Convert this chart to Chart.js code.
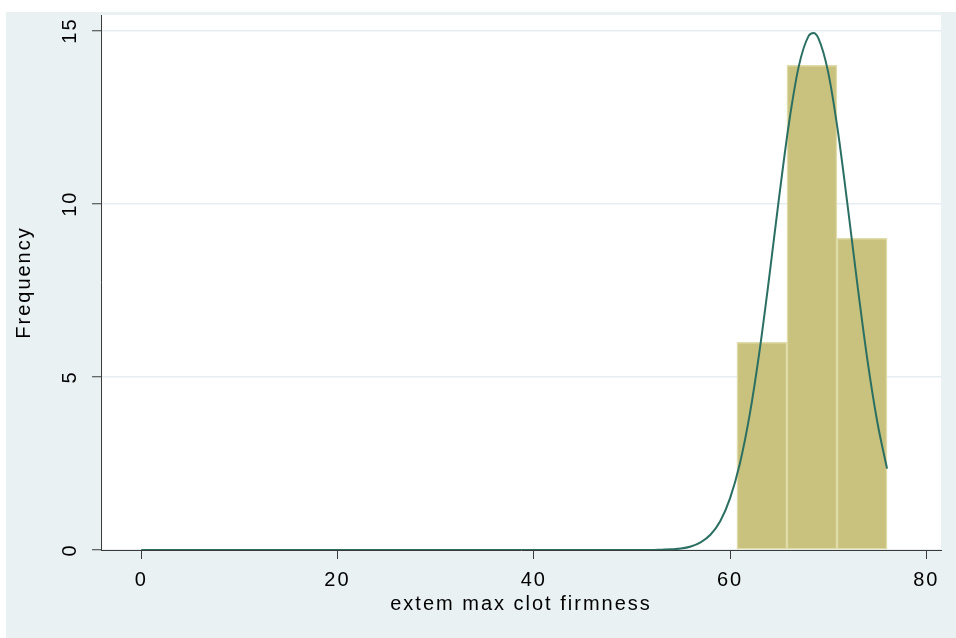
<!DOCTYPE html>
<html>
<head>
<meta charset="utf-8">
<script src="https://cdn.jsdelivr.net/npm/chart.js@4/dist/chart.umd.min.js"></script>
<style>
  html, body { margin: 0; padding: 0; background: #ffffff; }
  #wrap { position: absolute; left: 6px; top: 12px; width: 950px; height: 626px; background: #EAF1F3; }
  canvas { display: block; }
</style>
</head>
<body>
<div id="wrap"><canvas id="hist" width="950" height="626"></canvas></div>
<script>
// Histogram bins (edges) and counts
const binEdges = [60.7, 65.8, 70.9, 76.0];
const frequencies = [6, 14, 9];

// Fitted normal density, scaled to frequency
const curveX = [0, 10, 20, 30, 40, 45, 50, 52, 53, 54, 55, 56, 57, 58, 59, 60, 61, 62, 63, 64, 65, 66, 67, 68, 68.5, 69, 70, 71, 72, 73, 74, 75, 76];
const curveY = [0, 0, 0, 0, 0, 0, 0, 0, 0.01, 0.02, 0.04, 0.10, 0.22, 0.44, 0.83, 1.49, 2.49, 3.90, 5.73, 7.89, 10.18, 12.31, 13.96, 14.84, 14.93, 14.78, 13.80, 12.08, 9.91, 7.62, 5.49, 3.71, 2.35];

// Axis ticks
const xTicks = [0, 20, 40, 60, 80];
const yTicks = [0, 5, 10, 15];

const barPoints = frequencies.map((f, i) => ({ x: (binEdges[i] + binEdges[i + 1]) / 2, y: f }));
const curvePoints = curveX.map((x, i) => ({ x: x, y: curveY[i] }));

const FONT = { family: "'Liberation Sans', Arial, Helvetica, sans-serif", size: 20 };
const AXIS = '#3a3a3a';
const GRID = '#E6EEF1';

// Wider letter spacing for all text, plus white plot region
const stylePlugin = {
  id: 'plotStyle',
  beforeUpdate(chart) { chart.ctx.letterSpacing = '2px'; },
  beforeDraw(chart) {
    const { ctx, chartArea: a } = chart;
    ctx.letterSpacing = '2px';
    ctx.save();
    ctx.fillStyle = '#ffffff';
    ctx.fillRect(a.left, a.top, a.right - a.left, a.bottom - a.top);
    ctx.restore();
  }
};

new Chart(document.getElementById('hist'), {
  type: 'bar',
  data: {
    datasets: [
      {
        type: 'line',
        data: curvePoints,
        borderColor: '#2B6F63',
        borderWidth: 2,
        pointRadius: 0,
        cubicInterpolationMode: 'monotone',
        fill: false,
        order: 1
      },
      {
        type: 'bar',
        data: barPoints,
        backgroundColor: '#C9C27E',
        borderColor: '#E0DCAA',
        borderWidth: 1.5,
        borderSkipped: false,
        barPercentage: 1,
        categoryPercentage: 1,
        order: 2
      }
    ]
  },
  options: {
    responsive: false,
    devicePixelRatio: 1,
    animation: false,
    events: [],
    layout: { autoPadding: false, padding: { top: 3, right: 15, bottom: 0, left: 0 } },
    plugins: { legend: { display: false }, tooltip: { enabled: false } },
    scales: {
      x: {
        type: 'linear',
        min: -4.1,
        max: 81.5,
        offset: false,
        afterBuildTicks(s) { s.ticks = xTicks.map(v => ({ value: v })); },
        afterFit(s) { s.height = 88; s.paddingLeft = 0; s.paddingRight = 0; },
        grid: { offset: false, drawOnChartArea: false, drawTicks: true, tickLength: 9, tickColor: AXIS, tickWidth: 1 },
        border: { display: true, color: AXIS, width: 1 },
        ticks: { font: FONT, color: '#000', padding: 9, maxRotation: 0, minRotation: 0 },
        title: { display: true, text: 'extem max clot firmness', font: FONT, color: '#000', padding: { top: 0, bottom: 22 } }
      },
      y: {
        type: 'linear',
        min: 0,
        max: 15.45,
        afterBuildTicks(s) { s.ticks = yTicks.map(v => ({ value: v })); },
        afterFit(s) { s.width = 95; s.paddingTop = 0; s.paddingBottom = 0; },
        grid: { color: GRID, lineWidth: 1.5, drawTicks: true, tickLength: 9, tickColor: AXIS, tickWidth: 1 },
        border: { display: true, color: AXIS, width: 1 },
        ticks: { font: FONT, color: '#000', padding: 8, minRotation: 90, maxRotation: 90, crossAlign: 'center' },
        title: { display: true, text: 'Frequency', font: FONT, color: '#000', padding: { top: 6, bottom: 0 } }
      }
    }
  },
  plugins: [stylePlugin]
});
</script>
</body>
</html>
